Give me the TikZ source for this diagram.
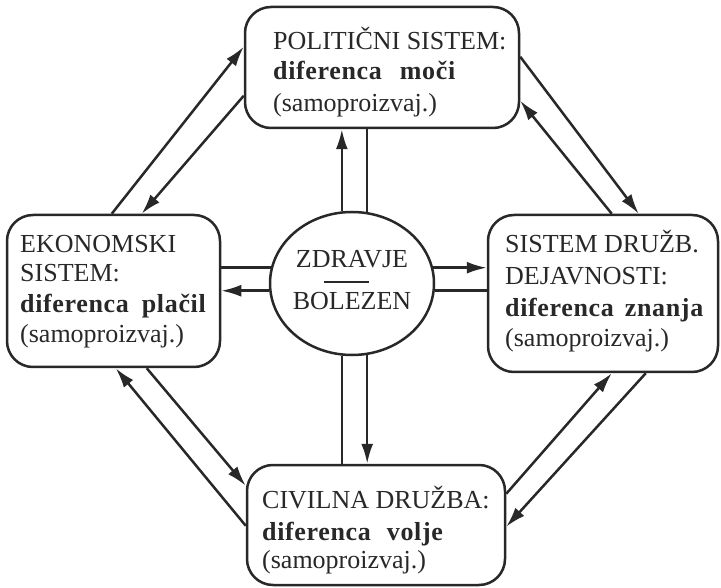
\documentclass[tikz,border=0pt]{standalone}
\usepackage{fontspec}
\setmainfont{Liberation Serif}
\newfontfamily\boldsp[LetterSpace=2.5]{Liberation Serif}
\usetikzlibrary{arrows.meta,calc,shapes.geometric}
\definecolor{ink}{RGB}{40,40,40}
\begin{document}
\begin{tikzpicture}[x=1pt,y=-1pt,
  box/.style={draw=ink,line width=2.5pt,rounded corners=26pt,inner sep=0pt},
  txt/.style={anchor=base west,inner sep=0pt,text=ink,font=\fontsize{26}{31}\selectfont},
  btxt/.style={anchor=base west,inner sep=0pt,text=ink,font=\fontsize{26}{31}\selectfont\boldsp\bfseries},
  ctxt/.style={anchor=base,inner sep=0pt,text=ink,font=\fontsize{26}{31}\selectfont},
  ln/.style={draw=ink,line width=2.5pt},
  arr/.style={ln,-{Latex[length=20pt,width=12pt]}}]
\useasboundingbox[fill=white] (0,0) rectangle (721,588);

% boxes
\node[box,minimum width=274pt,minimum height=121pt] (pol) at (382,67.5) {};
\node[box,minimum width=213pt,minimum height=152pt] (eko) at (113.5,291) {};
\node[box,minimum width=230pt,minimum height=157pt] (dru) at (603,293.5) {};
\node[box,minimum width=258pt,minimum height=120pt] (civ) at (376,525) {};
\node[ellipse,draw=ink,line width=2.5pt,minimum width=164pt,minimum height=143pt,inner sep=0pt] (zh) at (352,283.5) {};

% texts
\node[txt] (polA) at (273,50) {POLITIČNI SISTEM:};
\node[btxt] (polB) at (273,80) {diferenca\hspace{18pt}moči};
\node[txt] (polC) at (273,112) {(samoproizvaj.)};

\node[txt] (ekoA) at (20,253) {EKONOMSKI};
\node[txt] (ekoB) at (20,282) {SISTEM:};
\node[btxt] (ekoC) at (20,313) {diferenca\hspace{13pt}plačil};
\node[txt] (ekoD) at (20,343) {(samoproizvaj.)};

\node[txt] (druA) at (505,253) {SISTEM DRUŽB.};
\node[txt] (druB) at (505,285) {DEJAVNOSTI:};
\node[btxt] (druC) at (505,317) {diferenca\hspace{11pt}znanja};
\node[txt] (druD) at (505,347) {(samoproizvaj.)};

\node[txt] (civA) at (262,508) {CIVILNA DRUŽBA:};
\node[btxt] (civB) at (262,540) {diferenca\hspace{16pt}volje};
\node[txt] (civC) at (262,568) {(samoproizvaj.)};

\node[ctxt] (zdr) at (352,268) {ZDRAVJE};
\node[ctxt] (bol) at (352,310) {BOLEZEN};
\draw[ln] ($(zh.center)+(-28,-1.5)$) -- ($(zh.center)+(17,-1.5)$);

% connectors circle <-> boxes
\draw[arr] (zh.98) -- (zh.98 |- pol.south);
\draw[ln]  (zh.78.8) -- (zh.78.8 |- pol.south);
\draw[ln]  (zh.-98) -- (zh.-98 |- civ.north);
\draw[arr] (zh.-78.8) -- (zh.-78.8 |- civ.north);
\draw[ln]  (zh.169) -- (zh.169 -| eko.east);
\draw[arr] (zh.185.3) -- (zh.185.3 -| eko.east);
\draw[arr] (zh.11) -- (zh.11 -| dru.west);
\draw[ln]  (zh.-5.3) -- (zh.-5.3 -| dru.west);

% border points for diagonals
\coordinate (ekoT1) at ($(eko.north west)+(106,0)$);
\coordinate (ekoT2) at ($(eko.north west)+(136,0)$);
\coordinate (polL1) at ($(pol.north west)+(0,41)$);
\coordinate (polL2) at ($(pol.north west)+(0,90)$);
\coordinate (polR1) at ($(pol.north east)+(0,51)$);
\coordinate (polR2) at ($(pol.north east)+(0,95)$);
\coordinate (druT1) at ($(dru.north west)+(125,0)$);
\coordinate (druT2) at ($(dru.north west)+(152,0)$);
\coordinate (ekoB1) at ($(eko.south west)+(110,0)$);
\coordinate (ekoB2) at ($(eko.south west)+(141,0)$);
\coordinate (civL1) at ($(civ.north west)+(0,22)$);
\coordinate (civL2) at ($(civ.north west)+(0,62)$);
\coordinate (civR1) at ($(civ.north east)+(0,30)$);
\coordinate (civR2) at ($(civ.north east)+(0,63)$);
\coordinate (druB1) at ($(dru.south west)+(125,0)$);
\coordinate (druB2) at ($(dru.south west)+(159,0)$);

% diagonals
\draw[arr] (ekoT1) -- (polL1);
\draw[arr] (polL2) -- (ekoT2);
\draw[arr] (polR1) -- (druT2);
\draw[arr] (druT1) -- (polR2);
\draw[arr] (civL2) -- (ekoB1);
\draw[arr] (ekoB2) -- (civL1);
\draw[arr] (civR1) -- (druB1);
\draw[arr] (druB2) -- (civR2);
\end{tikzpicture}
\end{document}
